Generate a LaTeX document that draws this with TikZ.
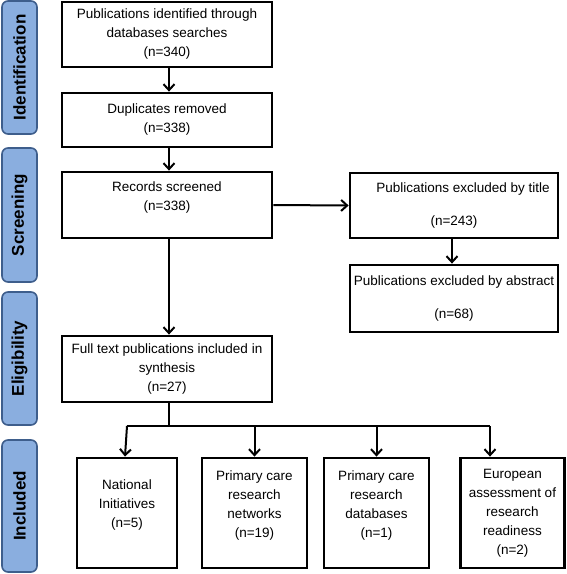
\documentclass[tikz,border=0pt]{standalone}
\usepackage{fontspec}
\setmainfont{Liberation Sans}
\usetikzlibrary{arrows.meta,positioning,shapes,calc}
\definecolor{barfill}{HTML}{8AAEDF}
\definecolor{barline}{HTML}{3E5E8C}

\begin{document}
\begin{tikzpicture}[x=1pt, y=-1pt, font=\fontsize{13.5}{19}\selectfont,
  box/.style={draw, line width=2.8pt, align=center, inner sep=2pt},
  raised/.style={text depth=18pt},
  wide/.style={font=\fontsize{13.5}{33}\selectfont},
  stage/.style={draw=barline, fill=barfill, line width=1.6pt, rounded corners=6pt, minimum width=35pt, rotate=90, font=\fontsize{17}{20}\selectfont\bfseries},
  arr/.style={line width=2pt, -{Straight Barb[length=6pt,width=11pt,line width=2pt]}},
  line/.style={line width=2pt}]
\useasboundingbox (0,0) rectangle (567,574);
% stage bars
\begin{scope}
\node[stage, minimum height=35pt, minimum width=133pt] (sIdent) at (19.5,67.5) {Identification};
\node[stage, minimum height=35pt, minimum width=134pt] (sScreen) at (19.5,215) {Screening};
\node[stage, minimum height=35pt, minimum width=133pt] (sElig) at (19.5,358.5) {Eligibility};
\node[stage, minimum height=35pt, minimum width=132pt] (sIncl) at (19.5,506) {Included};
\end{scope}
% boxes
\begin{scope}
\node[box, minimum width=210pt, minimum height=65pt] (ident) at (167,34.5) {Publications identified through\\databases searches\\(n=340)};
\node[box, minimum width=210pt, minimum height=54pt] (dup) at (167,120) {Duplicates removed\\(n=338)};
\node[box, raised, minimum width=210pt, minimum height=66pt] (screen) at (167,205) {Records screened\\(n=338)};
\node[box, wide, minimum width=208pt, minimum height=65pt] (title) at (454,205.5) {\hspace*{18pt}Publications excluded by title\\(n=243)};
\node[box, wide, minimum width=208pt, minimum height=67pt] (abstr) at (454,298.5) {Publications excluded by abstract\\(n=68)};
\node[box, minimum width=210pt, minimum height=66pt] (full) at (167,369) {Full text publications included in\\synthesis\\(n=27)};
\node[box, raised, minimum width=100pt, minimum height=110pt] (nat) at (127,513) {National\\Initiatives\\(n=5)};
\node[box, raised, minimum width=105pt, minimum height=110pt] (net) at (254.5,513) {Primary care\\research\\networks\\(n=19)};
\node[box, raised, minimum width=105pt, minimum height=110pt] (db) at (376.5,513) {Primary care\\research\\databases\\(n=1)};
\node[box, minimum width=104pt, minimum height=110pt] (eur) at (512.5,513) {European\\assessment of\\research\\readiness\\(n=2)};
\end{scope}
% connectors
\coordinate (fork) at (169,426);
\coordinate (drop4) at (490,426);
\begin{scope}
\draw[arr] (ident.south -| 169,0) -- (dup.north -| 169,0);
\draw[arr] (dup.south -| 169,0) -- (screen.north -| 169,0);
\draw[arr] (screen.south -| 169,0) -- (full.north -| 169,0);
\draw[arr] (screen.east) -- (title.west);
\draw[arr] (title.south -| 452,0) -- (abstr.north -| 452,0);
\draw[line] (full.south -| fork) -- (fork);
\draw[line] (nat.north |- fork) -- (drop4);
\draw[arr] (nat.north |- fork) -- (nat.north -| 125,0);
\draw[arr] (net.north |- fork) -- (net.north);
\draw[arr] (db.north |- fork) -- (db.north);
\draw[arr] (drop4) -- (drop4 |- eur.north);
\end{scope}
\end{tikzpicture}
\end{document}
